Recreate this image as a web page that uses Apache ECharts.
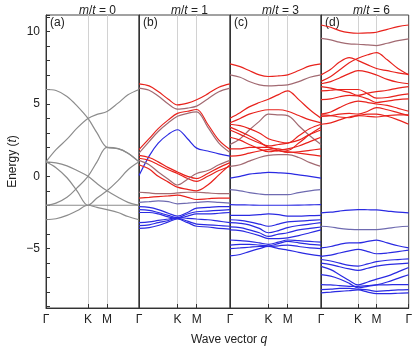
<!DOCTYPE html>
<html>
<head>
<meta charset="utf-8"/>
<style>
  html,body { margin:0; padding:0; background:#fff; }
  #chart { width:415px; height:357px; }
</style>
</head>
<body>
<div id="chart"></div>
<script src="https://cdn.jsdelivr.net/npm/echarts@6/dist/echarts.min.js"></script>
<script>
// path labels and where the sample points sit along the path (category index)
var pathLabels = ['Γ', 'K', 'M', 'Γ'];
var pathA = [0, 42, 61, 93];      // panel (a) is a bit wider
var pathB = [0, 38, 57, 90];
var kIdxA = [0, 10, 21, 31, 42, 51, 61, 72, 82, 93];
var kIdx  = [0, 10, 19, 29, 38, 48, 57, 68, 79, 90];

var massLabels = ['0', '1', '3', '6'];
var panelTags = ['(a)', '(b)', '(c)', '(d)'];

// energies at the sample points: Γ, ΓK x3, K, KM, M, MΓ x2, Γ
var bandsA = [
  [6.0, 5.93, 5.52, 4.87, 4.0, 3.0, 2.0, 1.92, 1.6, 1.0],
  [1.0, 1.84, 2.57, 3.33, 4.0, 4.28, 4.48, 5.06, 5.63, 6.0],
  [1.0, 0.93, 0.72, 0.4, 0.0, -0.5, -1.0, -1.45, -1.8, -2.0],
  [1.0, 0.6, -0.1, -1.0, -2.0, -1.5, -1.0, -0.3, 0.45, 1.0],
  [-2.0, -1.85, -1.45, -0.8, 0.0, 1.0, 2.0, 1.92, 1.6, 1.0],
  [-2.0, -2.0, -2.0, -2.0, -2.0, -2.0, -2.0, -2.0, -2.0, -2.0],
  [-3.0, -2.93, -2.7, -2.38, -2.0, -2.15, -2.3, -2.5, -2.78, -3.0]
];
var tintA = ['k', 'k', 'k', 'k', 'k', 'k', 'k'];

var bandsB = [
  [6.39, 6.25, 5.86, 5.33, 4.94, 5.06, 5.29, 5.70, 6.16, 6.39],
  [6.10, 5.95, 5.55, 5.00, 4.65, 4.72, 4.85, 5.35, 5.85, 6.10],
  [1.85, 2.6, 3.3, 3.9, 4.35, 4.5, 4.62, 3.6, 2.5, 1.85],
  [1.60, 2.4, 3.1, 3.7, 4.15, 4.35, 4.45, 3.4, 2.3, 1.65],
  [0.05, 1.4, 2.3, 2.9, 3.22, 2.6, 1.95, 1.75, 1.55, 1.4],
  [1.45, 1.3, 1.0, 0.6, 0.3, 0.0, -0.15, 0.2, 0.6, 0.95],
  [1.25, 1.1, 0.8, 0.45, 0.2, -0.15, -0.35, 0.0, 0.4, 0.7],
  [1.1, 0.8, 0.3, -0.2, -0.6, -0.2, 0.2, 0.4, 0.8, 1.1],
  [0.8, 0.5, 0.0, -0.4, -0.75, -0.9, -1.0, -0.6, 0.1, 0.8],
  [-1.1, -1.15, -1.2, -1.2, -1.15, -1.1, -1.1, -1.15, -1.2, -1.2],
  [-1.5, -1.45, -1.4, -1.35, -1.3, -1.45, -1.6, -1.55, -1.5, -1.5],
  [-1.8, -1.75, -1.7, -1.75, -1.9, -1.85, -1.8, -1.75, -1.8, -1.85],
  [-2.1, -2.15, -2.3, -2.55, -2.75, -2.5, -2.2, -2.15, -2.1, -2.1],
  [-2.3, -2.35, -2.5, -2.7, -2.85, -2.6, -2.45, -2.4, -2.35, -2.3],
  [-2.5, -2.5, -2.6, -2.8, -2.9, -2.75, -2.6, -2.6, -2.55, -2.5],
  [-3.2, -3.15, -3.05, -2.95, -2.85, -2.9, -2.95, -3.0, -3.1, -3.2],
  [-3.4, -3.35, -3.2, -3.05, -2.9, -3.1, -3.3, -3.35, -3.4, -3.45],
  [-3.6, -3.55, -3.4, -3.15, -2.95, -3.2, -3.45, -3.5, -3.6, -3.65]
];
var tintB = ['r', 'rg', 'r', 'rg', 'b', 'r', 'r', 'rg', 'r', 'rg', 'r', 'bg', 'b', 'b', 'b', 'b', 'b', 'b'];

var bandsC = [
  [7.77, 7.58, 7.31, 7.01, 6.90, 6.94, 7.01, 7.31, 7.63, 7.77],
  [7.01, 6.85, 6.55, 6.32, 6.25, 6.28, 6.32, 6.55, 6.85, 7.01],
  [4.02, 4.4, 4.8, 5.1, 5.33, 5.65, 5.91, 5.3, 4.6, 4.02],
  [3.7, 4.0, 4.3, 4.5, 4.6, 4.6, 4.5, 4.2, 3.9, 3.7],
  [2.2, 2.6, 3.2, 3.8, 4.3, 4.25, 4.2, 3.5, 2.8, 2.2],
  [3.6, 3.5, 3.3, 3.0, 2.6, 2.4, 2.3, 2.8, 3.3, 3.6],
  [3.4, 3.1, 2.8, 2.4, 2.0, 1.9, 1.8, 2.3, 2.9, 3.4],
  [3.2, 2.9, 2.6, 2.3, 2.1, 2.2, 2.3, 2.5, 2.9, 3.2],
  [2.7, 2.5, 2.2, 1.9, 1.7, 1.8, 1.9, 2.1, 2.4, 2.7],
  [1.9, 1.9, 2.0, 2.0, 2.0, 1.8, 1.65, 1.7, 1.8, 1.9],
  [1.4, 1.45, 1.6, 1.75, 1.85, 1.75, 1.7, 1.6, 1.5, 1.4],
  [0.69, 0.8, 1.05, 1.3, 1.45, 1.5, 1.5, 1.3, 0.95, 0.69],
  [-0.12, 0.0, 0.15, 0.22, 0.27, 0.24, 0.2, 0.1, 0.0, -0.12],
  [-0.92, -1.0, -1.12, -1.22, -1.27, -1.27, -1.27, -1.12, -1.0, -0.92],
  [-1.96, -1.97, -1.98, -2.0, -2.0, -2.0, -2.0, -1.99, -1.97, -1.96],
  [-2.7, -2.7, -2.7, -2.65, -2.6, -2.65, -2.75, -2.75, -2.72, -2.7],
  [-3.0, -3.05, -3.15, -3.3, -3.45, -3.3, -3.15, -3.1, -3.05, -3.0],
  [-3.2, -3.25, -3.35, -3.6, -3.9, -3.75, -3.55, -3.4, -3.3, -3.2],
  [-3.5, -3.55, -3.7, -3.9, -4.15, -4.0, -3.9, -3.7, -3.6, -3.5],
  [-3.7, -3.75, -3.9, -4.1, -4.3, -4.3, -4.25, -4.1, -3.9, -3.7],
  [-4.4, -4.45, -4.5, -4.6, -4.7, -4.55, -4.4, -4.45, -4.5, -4.55],
  [-4.75, -4.7, -4.7, -4.75, -4.8, -4.65, -4.5, -4.6, -4.7, -4.75],
  [-5.0, -4.95, -4.9, -4.85, -4.85, -4.8, -4.75, -4.85, -4.95, -5.0],
  [-5.5, -5.4, -5.2, -5.0, -4.85, -5.0, -5.1, -5.25, -5.4, -5.5]
];
var tintC = ['r', 'rg', 'r', 'r', 'rg', 'r', 'r', 'r', 'r', 'r', 'r', 'rg',
             'b', 'bg', 'b', 'b', 'b', 'b', 'b', 'b', 'b', 'b', 'b', 'b'];

var bandsD = [
  [10.46, 10.3, 10.07, 9.93, 9.89, 9.91, 9.96, 10.16, 10.35, 10.46],
  [9.54, 9.43, 9.27, 9.15, 9.13, 9.08, 9.04, 9.2, 9.38, 9.5],
  [6.56, 6.9, 7.35, 7.85, 8.16, 8.4, 8.55, 8.05, 7.45, 7.01],
  [7.01, 7.4, 7.9, 8.2, 8.0, 7.7, 7.45, 7.3, 7.15, 7.05],
  [6.4, 6.55, 6.8, 7.1, 7.3, 7.2, 7.0, 6.7, 6.5, 6.4],
  [6.2, 6.1, 5.95, 5.8, 5.6, 5.75, 5.85, 5.95, 6.1, 6.2],
  [5.9, 5.95, 6.0, 6.0, 6.0, 5.7, 5.4, 5.45, 5.6, 5.7],
  [5.3, 5.35, 5.5, 5.6, 5.55, 5.35, 5.1, 5.2, 5.3, 5.35],
  [4.3, 4.45, 4.75, 5.05, 5.2, 5.1, 5.0, 4.9, 4.7, 4.5],
  [4.15, 4.2, 4.3, 4.35, 4.3, 4.5, 4.75, 4.6, 4.4, 4.2],
  [3.6, 3.7, 3.9, 4.1, 4.2, 4.3, 4.3, 4.15, 3.9, 3.6],
  [4.25, 4.2, 4.1, 4.05, 4.2, 4.15, 4.1, 4.2, 4.25, 4.25],
  [-2.53, -2.48, -2.4, -2.33, -2.3, -2.31, -2.32, -2.4, -2.48, -2.53],
  [-3.45, -3.5, -3.6, -3.66, -3.69, -3.69, -3.69, -3.6, -3.5, -3.45],
  [-4.95, -4.85, -4.7, -4.6, -4.6, -4.5, -4.41, -4.6, -4.8, -4.95],
  [-5.53, -5.45, -5.3, -5.15, -5.05, -5.2, -5.35, -5.3, -5.2, -5.1],
  [-5.75, -5.85, -6.0, -6.15, -6.2, -6.05, -5.9, -5.8, -5.75, -5.7],
  [-6.0, -6.1, -6.25, -6.4, -6.5, -6.35, -6.2, -6.1, -6.05, -6.0],
  [-6.22, -6.45, -6.8, -7.2, -7.5, -7.3, -7.1, -6.9, -6.6, -6.3],
  [-6.8, -6.9, -7.1, -7.4, -7.7, -7.6, -7.5, -7.3, -7.05, -6.8],
  [-7.48, -7.5, -7.55, -7.6, -7.6, -7.55, -7.5, -7.5, -7.48, -7.48],
  [-7.83, -7.8, -7.75, -7.75, -7.8, -7.85, -7.95, -7.9, -7.85, -7.83],
  [-8.05, -8.0, -7.95, -7.9, -7.85, -8.0, -8.1, -8.1, -8.08, -8.05]
];
var tintD = ['r', 'rg', 'r', 'r', 'r', 'r', 'r', 'r', 'r', 'r', 'r', 'r',
             'b', 'bg', 'b', 'b', 'b', 'b', 'b', 'b', 'b', 'b', 'b'];

var tintColor = { k: '#8c8c8c', r: '#e8221c', rg: '#a26a72', b: '#2a2ae2', bg: '#6e6ab0' };

var chart = echarts.init(document.getElementById('chart'));

var panels = [
  { bands: bandsA, tint: tintA, idx: kIdxA, path: pathA, left: 46, width: 93 },
  { bands: bandsB, tint: tintB, idx: kIdx, path: pathB, left: 139, width: 91 },
  { bands: bandsC, tint: tintC, idx: kIdx, path: pathB, left: 230, width: 91 },
  { bands: bandsD, tint: tintD, idx: kIdx, path: pathB, left: 321, width: 91 }
];

function makeCats(path, hideFirst) {
  var cats = [];
  for (var i = 0; i <= path[3]; i++) {
    var p = path.indexOf(i);
    cats.push(p >= 0 && !(hideFirst && i === 0) ? pathLabels[p] : '');
  }
  return cats;
}

var grids = [], xAxes = [], yAxes = [], series = [], titles = [], graphics = [];

panels.forEach(function (pn, i) {
  var path = pn.path;
  grids.push({ left: pn.left, width: pn.width, top: 15, height: 293,
               show: true, borderColor: '#444', borderWidth: 1 });
  xAxes.push({
    type: 'category', gridIndex: i, boundaryGap: false,
    data: makeCats(path, i > 0),
    axisLine: { onZero: false, lineStyle: { color: '#333', width: 1 } },
    axisTick: { inside: true, length: 4, lineStyle: { color: '#333' },
                interval: function (n) { return path.indexOf(n) >= 0; } },
    axisLabel: { color: '#222', fontSize: 12, margin: 6, fontFamily: 'Liberation Sans',
                 interval: function (n, v) { return v !== ''; } },
    splitLine: { show: true, lineStyle: { color: '#d2d2d2', width: 1 },
                 interval: function (n) { return n === path[1] || n === path[2]; } }
  });
  yAxes.push({
    type: 'value', gridIndex: i, min: -9.1, max: 11.15, splitNumber: 20,
    axisLine: { show: true, onZero: false, lineStyle: { color: '#333', width: 1 } },
    axisTick: { show: i === 0, inside: true, length: 4, lineStyle: { color: '#333' } },
    axisLabel: { show: i === 0, color: '#222', fontSize: 12, margin: 6, fontFamily: 'Liberation Sans',
                 formatter: function (v) {
                   if (Math.abs(v % 5) > 1e-6) return '';
                   return v < 0 ? '\u2212' + (-v) : String(v);
                 } },
    splitLine: { show: false },
    name: i === 0 ? 'Energy ({i|t})' : '',
    nameLocation: 'middle', nameGap: 27,
    nameTextStyle: { color: '#222', fontSize: 12, fontFamily: 'Liberation Sans',
                     rich: { i: { fontStyle: 'italic', fontSize: 12, fontFamily: 'Liberation Sans' } } }
  });
  titles.push({
    text: '{i|m}/{i|t} = ' + massLabels[i],
    left: pn.left + pn.width / 2, top: 0, textAlign: 'center',
    textStyle: { fontSize: 12, fontWeight: 'normal', color: '#222', fontFamily: 'Liberation Sans',
                 rich: { i: { fontStyle: 'italic', fontSize: 12, color: '#222', fontFamily: 'Liberation Sans' } } }
  });
  graphics.push({
    type: 'text', left: pn.left + 4, top: 17,
    style: { text: panelTags[i], fontSize: 12, fill: '#222', fontFamily: 'Liberation Sans' }
  });
  pn.bands.forEach(function (band, b) {
    series.push({
      type: 'line', xAxisIndex: i, yAxisIndex: i,
      data: band.map(function (e, j) { return [pn.idx[j], e]; }),
      smooth: 0.35, symbol: 'none', silent: true,
      lineStyle: { color: tintColor[pn.tint[b]], width: 1.2 }
    });
  });
});

graphics.push({
  type: 'text', x: 229, y: 340,
  style: { text: 'Wave vector {i|q}', fontSize: 12, fill: '#222', fontFamily: 'Liberation Sans',
           align: 'center', verticalAlign: 'middle',
           rich: { i: { fontStyle: 'italic', fontSize: 12, fontFamily: 'Liberation Sans' } } }
});

chart.setOption({
  animation: false,
  title: titles,
  grid: grids,
  xAxis: xAxes,
  yAxis: yAxes,
  graphic: graphics,
  series: series
});
</script>
</body>
</html>
